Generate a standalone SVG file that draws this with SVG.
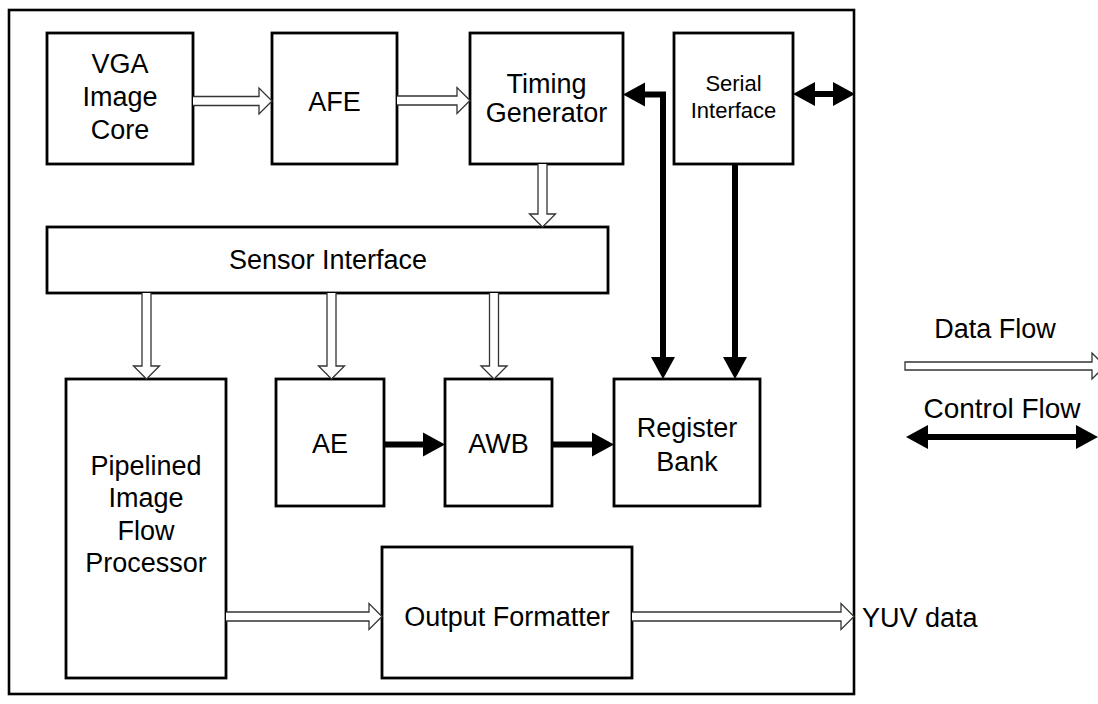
<svg xmlns="http://www.w3.org/2000/svg" width="1098" height="704" viewBox="0 0 1098 704">
  <style>
    .box { fill: #ffffff; stroke: #000000; stroke-width: 2.8; }
    .frame { fill: none; stroke: #000000; stroke-width: 2.6; }
    .lbl { font-family: "Liberation Sans", Arial, sans-serif; font-size: 27px; fill: #000000; text-anchor: middle; }
    .small { font-size: 22px; }
    .legend { font-size: 28px; }
    .data { fill: #ffffff; stroke: #333333; stroke-width: 1.3; stroke-linejoin: miter; }
    .ctrl { fill: none; stroke: #000000; stroke-width: 6; stroke-linejoin: miter; }
  </style>
  <defs>
    <marker id="head" markerUnits="userSpaceOnUse" markerWidth="30" markerHeight="30" refX="0" refY="0" orient="auto-start-reverse" overflow="visible">
      <path d="M0,-12 L22,0 L0,12 z" fill="#000000"/>
    </marker>
  </defs>

  <!-- chip boundary -->
  <rect class="frame" x="9" y="10" width="845" height="684"/>

  <!-- blocks -->
  <g id="vga-core">
    <rect class="box" x="47" y="33" width="146" height="131"/>
    <text class="lbl" x="120" y="73">VGA</text>
    <text class="lbl" x="120" y="106">Image</text>
    <text class="lbl" x="120" y="139">Core</text>
  </g>
  <g id="afe">
    <rect class="box" x="272" y="33" width="125" height="131"/>
    <text class="lbl" x="334.5" y="111">AFE</text>
  </g>
  <g id="timing-generator">
    <rect class="box" x="470" y="33" width="153" height="131"/>
    <text class="lbl" x="546.5" y="93">Timing</text>
    <text class="lbl" x="546.5" y="122">Generator</text>
  </g>
  <g id="serial-interface">
    <rect class="box" x="674" y="33" width="119" height="131"/>
    <text class="lbl small" x="733.5" y="91">Serial</text>
    <text class="lbl small" x="733.5" y="118">Interface</text>
  </g>
  <g id="sensor-interface">
    <rect class="box" x="47" y="227" width="561" height="66"/>
    <text class="lbl" x="328" y="269">Sensor Interface</text>
  </g>
  <g id="image-flow-processor">
    <rect class="box" x="66" y="379" width="160" height="299"/>
    <text class="lbl" x="146" y="475">Pipelined</text>
    <text class="lbl" x="146" y="507">Image</text>
    <text class="lbl" x="146" y="540">Flow</text>
    <text class="lbl" x="146" y="572">Processor</text>
  </g>
  <g id="ae">
    <rect class="box" x="276" y="379" width="108" height="127"/>
    <text class="lbl" x="330" y="453">AE</text>
  </g>
  <g id="awb">
    <rect class="box" x="445" y="379" width="107" height="127"/>
    <text class="lbl" x="498.5" y="453">AWB</text>
  </g>
  <g id="register-bank">
    <rect class="box" x="614" y="379" width="146" height="127"/>
    <text class="lbl" x="687" y="437">Register</text>
    <text class="lbl" x="687" y="471">Bank</text>
  </g>
  <g id="output-formatter">
    <rect class="box" x="382" y="547" width="250" height="131"/>
    <text class="lbl" x="507" y="626">Output Formatter</text>
  </g>

  <!-- connectors -->
  <g id="connectors">
    <!-- data flow (hollow arrows) -->
    <path class="data" d="M193,96.5 H259 V88 L272,101 L259,114 V105.5 H193"/>
    <path class="data" d="M397,96 H457 V87.5 L470,100.5 L457,113.5 V105 H397"/>
    <path class="data" d="M538,164 V214 H529.5 L542.5,227 L555.5,214 H547 V164"/>
    <path class="data" d="M142,293 V366 H133.5 L146.5,379 L159.5,366 H151 V293"/>
    <path class="data" d="M327,293 V366 H318.5 L331.5,379 L344.5,366 H336 V293"/>
    <path class="data" d="M489.5,293 V366 H481 L494,379 L507,366 H498.5 V293"/>
    <path class="data" d="M226,612 H369 V603.5 L382,616.5 L369,629.5 V621 H226"/>
    <path class="data" d="M632,612 H841 V603.5 L854,616.5 L841,629.5 V621 H632"/>

    <!-- control flow (solid arrows) -->
    <path class="ctrl" d="M645,94.5 H663 V357" marker-start="url(#head)" marker-end="url(#head)"/>
    <path class="ctrl" d="M735,164 V357" marker-end="url(#head)"/>
    <path class="ctrl" d="M815,94 H833" marker-start="url(#head)" marker-end="url(#head)"/>
    <path class="ctrl" d="M384,444.5 H423" marker-end="url(#head)"/>
    <path class="ctrl" d="M552,444.5 H592" marker-end="url(#head)"/>
  </g>

  <!-- output label -->
  <text class="lbl" x="862" y="627" style="text-anchor:start">YUV data</text>

  <!-- legend -->
  <g id="legend">
    <text class="lbl" x="995" y="338">Data Flow</text>
    <path class="data" d="M905,362 H1092 V353 L1105,366 L1092,379 V370 H905 Z"/>
    <text class="lbl legend" x="1002" y="418">Control Flow</text>
    <path class="ctrl" d="M928,437 H1076" marker-start="url(#head)" marker-end="url(#head)"/>
  </g>
</svg>
